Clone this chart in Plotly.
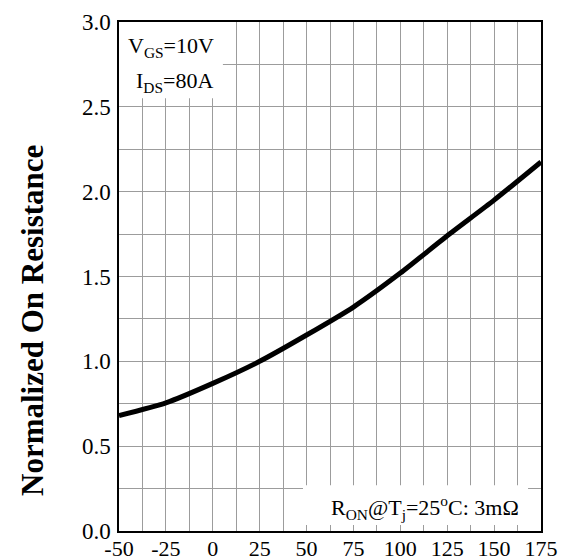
import plotly.graph_objects as go

temps = [-50, -25, 0, 25, 50, 75, 100, 125, 150, 175]
r_norm = [0.68, 0.755, 0.87, 1.0, 1.155, 1.32, 1.52, 1.74, 1.95, 2.175]
x_ticks = [-50, -25, 0, 25, 50, 75, 100, 125, 150, 175]
y_ticks = [0.0, 0.5, 1.0, 1.5, 2.0, 2.5, 3.0]
y_ticklabels = ["0.0", "0.5", "1.0", "1.5", "2.0", "2.5", "3.0"]

FONT = "Liberation Serif"
GRID = "#9c9c9c"

fig = go.Figure()
fig.add_trace(go.Scatter(x=temps, y=r_norm, mode="lines",
                         line=dict(color="black", width=5, shape="spline", smoothing=0.6),
                         showlegend=False, hoverinfo="skip"))

fig.update_layout(
    width=563, height=560,
    margin=dict(l=119, r=22, t=22, b=29, autoexpand=False),
    paper_bgcolor="white", plot_bgcolor="white",
    font=dict(family=FONT, size=22, color="black"),
    xaxis=dict(range=[-50, 175], tickvals=x_ticks, ticktext=[str(v) for v in x_ticks],
               showgrid=True, gridcolor=GRID, gridwidth=1,
               minor=dict(dtick=12.5, tick0=-50, showgrid=True, gridcolor=GRID, gridwidth=1),
               showline=True, linecolor="black", linewidth=1.5, mirror=True, automargin=False,
               ticks="", ticklen=0, zeroline=False, fixedrange=True, ticklabelstandoff=-3,
               tickfont=dict(family=FONT, size=22, color="black")),
    yaxis=dict(range=[0, 3.0], tickvals=y_ticks, ticktext=y_ticklabels,
               showgrid=True, gridcolor=GRID, gridwidth=1,
               minor=dict(dtick=0.25, tick0=0, showgrid=True, gridcolor=GRID, gridwidth=1),
               showline=True, linecolor="black", linewidth=1.5, mirror=True, automargin=False,
               ticks="", ticklen=0, zeroline=False, fixedrange=True, ticklabelstandoff=2,
               tickfont=dict(family=FONT, size=23, color="black")),
)

# white boxes behind the annotation texts
fig.add_shape(type="rect", xref="x", yref="y", x0=-50, x1=5.4, y0=2.55, y1=3.0,
              fillcolor="white", line=dict(width=0), layer="between")
fig.add_shape(type="rect", xref="x", yref="y", x0=48.1, x1=168.1, y0=0.035, y1=0.27,
              fillcolor="white", line=dict(width=0), layer="between")

def px_x(p):
    return (p - 119) / 422

def px_y(p):
    return (531 - p) / 509

fig.add_annotation(xref="paper", yref="paper", x=px_x(171), y=px_y(47),
                   xanchor="center", yanchor="middle",
                   text="V<sub>GS</sub>=10V", showarrow=False,
                   font=dict(family=FONT, size=22, color="black"))
fig.add_annotation(xref="paper", yref="paper", x=px_x(174), y=px_y(82),
                   xanchor="center", yanchor="middle",
                   text="I<sub>DS</sub>=80A", showarrow=False,
                   font=dict(family=FONT, size=22, color="black"))
fig.add_annotation(xref="paper", yref="paper", x=px_x(425), y=px_y(507),
                   xanchor="center", yanchor="middle",
                   text="R<sub>ON</sub>@T<sub>j</sub>=25<sup>o</sup>C: 3mΩ", showarrow=False,
                   font=dict(family=FONT, size=22, color="black"))

fig.add_annotation(xref="paper", yref="paper", x=px_x(33), y=px_y(321),
                   xanchor="center", yanchor="middle",
                   text="<b>Normalized On Resistance</b>", showarrow=False, textangle=-90,
                   font=dict(family=FONT, size=31, color="black"))

fig.write_html("out.html")
